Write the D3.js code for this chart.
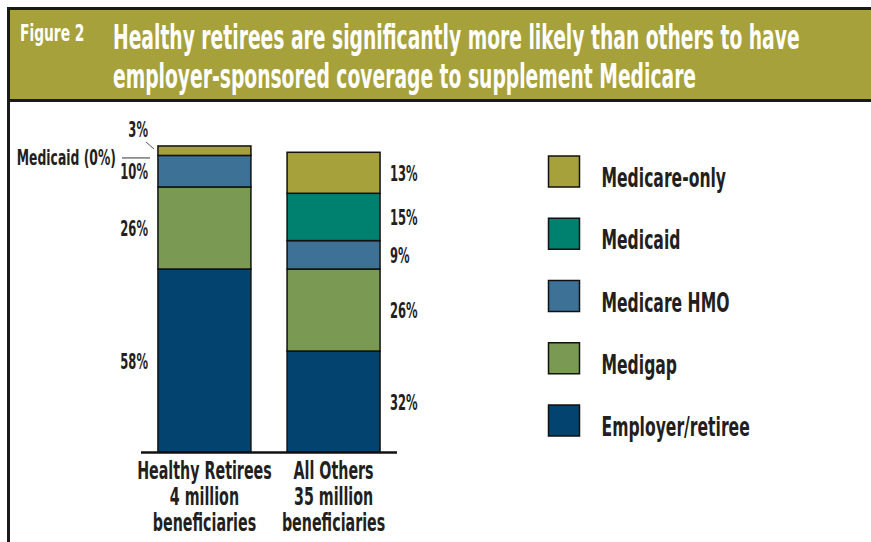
<!DOCTYPE html>
<html>
<head>
<meta charset="UTF-8">
<title>Figure 2</title>
<script src="https://d3js.org/d3.v7.min.js"></script>
<style>
  body { margin: 0; background: #fff; }
  svg text { font-family: "DejaVu Sans Condensed", "DejaVu Sans", sans-serif; font-weight: bold; }
</style>
</head>
<body>
<svg width="871" height="542"></svg>
<script>
// data
var groups = ["Healthy Retirees", "All Others"];
var groupSub = ["4 million", "35 million"];
var categories = ["Employer/retiree", "Medigap", "Medicare HMO", "Medicaid", "Medicare-only"];
var healthy = [58, 26, 10, 0, 3];
var others = [32, 26, 9, 15, 13];
var colors = ["#02436f", "#7a9952", "#3d7196", "#00806e", "#a6a13a"];
var titleLines = ["Healthy retirees are significantly more likely than others to have",
                  "employer-sponsored coverage to supplement Medicare"];

var svg = d3.select("svg");
var W = 871, H = 542;
var ink = "#231f20";

// the original face is a condensed DIN; squeeze DejaVu horizontally to match
var probe = svg.append("text").attr("font-size", 34).text(titleLines[0]);
var sx = 687 / probe.node().getComputedTextLength();
probe.remove();

function T(parent, x, y, str, size, anchor, fill, k) {
  return parent.append("text")
    .attr("transform", "translate(" + x + "," + y + ") scale(" + (sx * (k || 1)) + ",1)")
    .attr("font-size", size)
    .attr("text-anchor", anchor || "start")
    .attr("fill", fill || ink)
    .text(str);
}

// frame + header band
svg.append("rect").attr("x", 8.5).attr("y", 8.5).attr("width", W).attr("height", 92)
  .attr("fill", "#a6a13a").attr("stroke", "#1a1a1a").attr("stroke-width", 3);
svg.append("line").attr("x1", 8.5).attr("x2", 8.5).attr("y1", 8).attr("y2", H)
  .attr("stroke", "#1a1a1a").attr("stroke-width", 3);

T(svg, 20, 41, "Figure 2", 23, "start", "#fff", 1.09);
T(svg, 113, 49, titleLines[0], 34, "start", "#fff");
T(svg, 113, 88, titleLines[1], 34, "start", "#fff");

// scales
var y = d3.scaleLinear().domain([0, 100]).range([452, 136.5]);
var x = d3.scaleBand().domain(groups).range([151.5, 386.5]).paddingInner(0.28).paddingOuter(0.05);

var stack = d3.stack().keys(categories);
var rows = groups.map(function(g, i) {
  var r = { group: g };
  var vals = i === 0 ? healthy : others;
  categories.forEach(function(c, j) { r[c] = vals[j]; });
  return r;
});
var series = stack(rows);

var layer = svg.append("g").selectAll("g").data(series).join("g")
  .attr("fill", function(d, i) { return colors[i]; });
layer.selectAll("rect").data(function(d) { return d; }).join("rect")
  .attr("x", function(d) { return x(d.data.group); })
  .attr("width", x.bandwidth())
  .attr("y", function(d) { return y(d[1]); })
  .attr("height", function(d) { return y(d[0]) - y(d[1]); })
  .attr("stroke", "#111").attr("stroke-width", 1.5)
  .style("display", function(d) { return d[1] - d[0] > 0 ? null : "none"; });

// baseline
svg.append("line").attr("x1", 141).attr("x2", 397).attr("y1", y(0) + 0.5).attr("y2", y(0) + 0.5)
  .attr("stroke", "#111").attr("stroke-width", 2.5);

// value labels
var lab = svg.append("g");
function mid(d) { return (y(d[0]) + y(d[1])) / 2; }
series.forEach(function(s, i) {
  var h = s[0], o = s[1];
  if (healthy[i] >= 10) T(lab, 148, mid(h) + 8, healthy[i] + "%", 21, "end");
  T(lab, 390, mid(o) + 8, others[i] + "%", 21, "start");
});
// small Healthy segments with callouts
var hTop = series[4][0];
T(lab, 148, 137, healthy[4] + "%", 21, "end");
svg.append("line").attr("x1", 146).attr("y1", 142).attr("x2", 154).attr("y2", 149)
  .attr("stroke", "#555").attr("stroke-width", 1);
T(lab, 116, 165, "Medicaid (" + healthy[3] + "%)", 21, "end", null, 1.07);
svg.append("line").attr("x1", 122).attr("x2", 150).attr("y1", y(hTop[0]) + 2.5).attr("y2", y(hTop[0]) + 2.5)
  .attr("stroke", "#555").attr("stroke-width", 1.2);

// x labels
var xl = svg.append("g");
groups.forEach(function(g, i) {
  var cx = x(g) + x.bandwidth() / 2;
  T(xl, cx, 479, g, 24, "middle", null, 1.08);
  T(xl, cx, 505, groupSub[i], 24, "middle", null, 1.08);
  T(xl, cx, 531, "beneficiaries", 24, "middle", null, 1.08);
});

// legend (top to bottom: reversed stack order)
var legOrder = categories.slice().reverse();
var ly = d3.scalePoint().domain(legOrder).range([156, 405]);
var leg = svg.append("g").selectAll("g").data(legOrder).join("g")
  .attr("transform", function(d) { return "translate(548.5," + ly(d) + ")"; });
leg.append("rect").attr("width", 31).attr("height", 31)
  .attr("fill", function(d) { return colors[categories.indexOf(d)]; })
  .attr("stroke", "#111").attr("stroke-width", 1.5);
leg.each(function(d) { T(d3.select(this), 53, 31, d, 26, "start", null, 1.09); });
</script>
</body>
</html>
